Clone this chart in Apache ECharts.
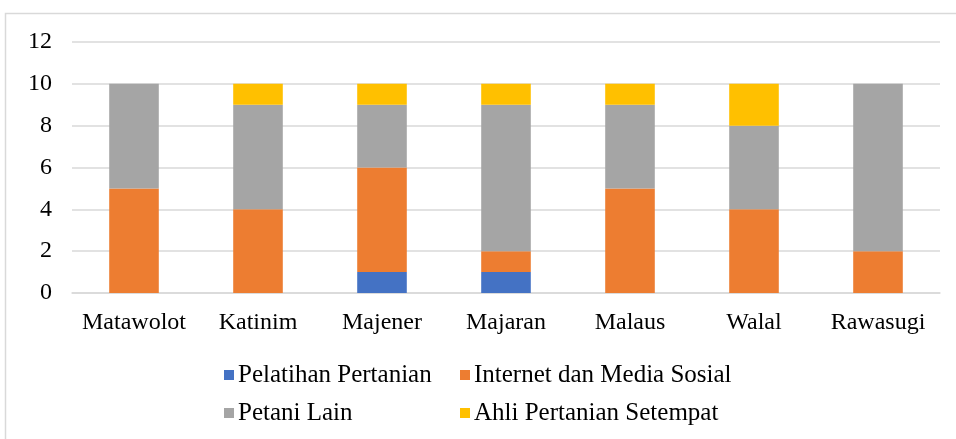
<!DOCTYPE html>
<html>
<head>
<meta charset="utf-8">
<script src="https://cdn.jsdelivr.net/npm/echarts@6/dist/echarts.min.js"></script>
<style>
  html, body { margin: 0; padding: 0; background: #fff; }
  #chart { width: 956px; height: 439px; }
</style>
</head>
<body>
<div id="chart"></div>
<script>
// Villages (x axis)
const categories = ['Matawolot', 'Katinim', 'Majener', 'Majaran', 'Malaus', 'Walal', 'Rawasugi'];

// Number of respondents per information source
const pelatihanPertanian = [0, 0, 1, 1, 0, 0, 0];
const internetMediaSosial = [5, 4, 5, 1, 5, 4, 2];
const petaniLain = [5, 5, 3, 7, 4, 4, 8];
const ahliPertanian = [0, 1, 1, 1, 1, 2, 0];

const seriesNames = ['Pelatihan Pertanian', 'Internet dan Media Sosial', 'Petani Lain', 'Ahli Pertanian Setempat'];
const seriesValues = [pelatihanPertanian, internetMediaSosial, petaniLain, ahliPertanian];
const seriesColors = ['#4472C4', '#ED7D31', '#A5A5A5', '#FFC000'];

const yTicks = { min: 0, max: 12, interval: 2 };

const font = 'Liberation Serif, Times New Roman, serif';

// Legend laid out as a 2x2 grid: one legend component per entry
const legendSlots = [
  { left: 224, top: 361 }, { left: 460, top: 361 },
  { left: 224, top: 399 }, { left: 460, top: 399 }
];

const chart = echarts.init(document.getElementById('chart'));
chart.setOption({
  animation: false,
  backgroundColor: '#fff',
  graphic: [{
    type: 'rect',
    shape: { x: 5.5, y: 13.5, width: 1000, height: 500 },
    style: { fill: 'none', stroke: '#D9D9D9', lineWidth: 1.5 },
    silent: true
  }],
  grid: { left: 72, right: 16, top: 42, height: 251 },
  legend: seriesNames.map((name, i) => ({
    left: legendSlots[i].left,
    top: legendSlots[i].top,
    padding: 0,
    itemWidth: 10,
    itemHeight: 10,
    icon: 'rect',
    textStyle: { fontFamily: font, fontSize: 25, color: '#000', lineHeight: 28, padding: [0, 0, 0, -1] },
    data: [name]
  })),
  xAxis: {
    type: 'category',
    data: categories,
    axisLine: { show: true, lineStyle: { color: '#D9D9D9', width: 1.5 } },
    axisTick: { show: false },
    axisLabel: { fontFamily: font, fontSize: 24, color: '#000', margin: 18, interval: 0 }
  },
  yAxis: {
    type: 'value',
    min: yTicks.min,
    max: yTicks.max,
    interval: yTicks.interval,
    axisLine: { show: false },
    axisTick: { show: false },
    splitLine: { lineStyle: { color: '#D9D9D9', width: 1.5 } },
    axisLabel: { fontFamily: font, fontSize: 24, color: '#000', margin: 20 }
  },
  series: seriesNames.map((name, i) => ({
    name: name,
    type: 'bar',
    stack: 'total',
    barWidth: '40%',
    itemStyle: { color: seriesColors[i] },
    data: seriesValues[i]
  }))
});
</script>
</body>
</html>
